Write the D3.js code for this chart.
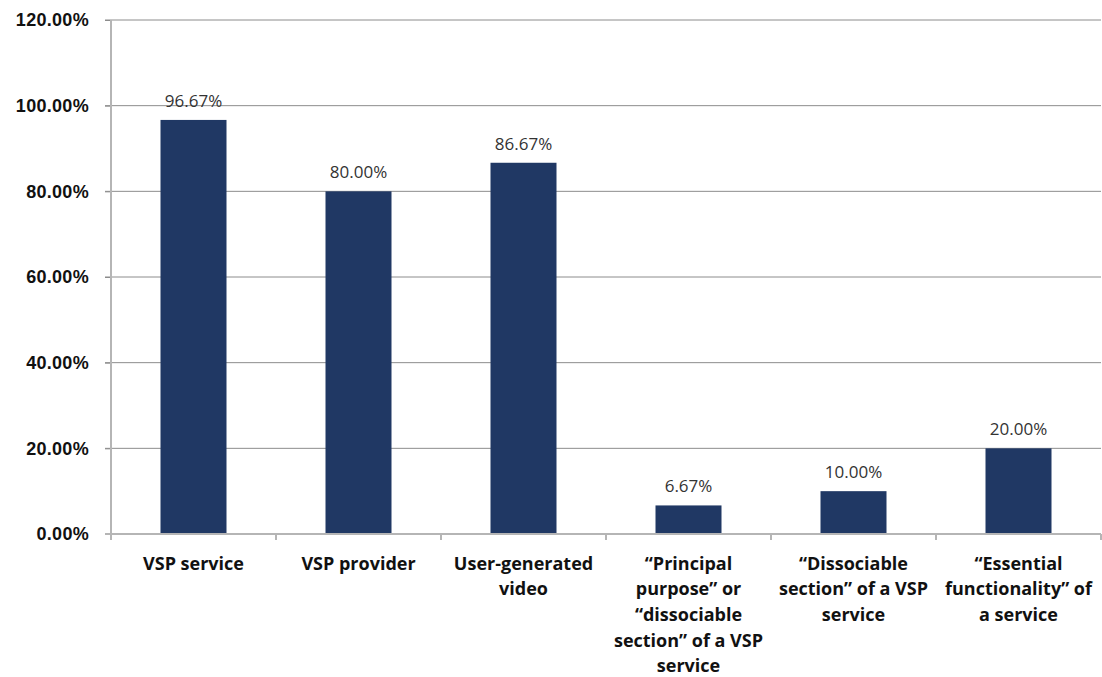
<!DOCTYPE html>
<html>
<head>
<meta charset="utf-8">
<script src="https://cdn.jsdelivr.net/npm/d3@7"></script>
<style>
  body { margin: 0; background: #fff; }
  svg { display: block; font-family: "Open Sans", "Liberation Sans", sans-serif; }
</style>
</head>
<body>
<div id="chart"></div>
<script>
const categories = [
    ['VSP service'],
    ['VSP provider'],
    ['User-generated', 'video'],
    ['\u201cPrincipal', 'purpose\u201d or', '\u201cdissociable', 'section\u201d of a VSP', 'service'],
    ['\u201cDissociable', 'section\u201d of a VSP', 'service'],
    ['\u201cEssential', 'functionality\u201d of', 'a service']
];
const values = [96.67, 80.00, 86.67, 6.67, 10.00, 20.00];
const yTicks = [0, 20, 40, 60, 80, 100, 120];

const W = 1102, H = 677;
const margin = { top: 20, right: 1, bottom: 143, left: 111 };
const width = W - margin.left - margin.right;
const height = H - margin.top - margin.bottom;

const svg = d3.select('#chart').append('svg').attr('width', W).attr('height', H);
const g = svg.append('g').attr('transform', `translate(${margin.left},${margin.top})`);

const x = d3.scaleBand().domain(d3.range(categories.length)).range([0, width]).padding(0);
const y = d3.scaleLinear().domain([0, 120]).range([height, 0]);
const fmt = v => v.toFixed(2) + '%';

// gridlines
g.append('g').selectAll('line').data(yTicks.filter(t => t > 0)).enter().append('line')
    .attr('x1', -6).attr('x2', width).attr('y1', d => y(d)).attr('y2', d => y(d))
    .attr('stroke', '#8c8c8c').attr('stroke-width', 1);

// y axis
const yAxis = g.append('g').call(d3.axisLeft(y).tickValues(yTicks).tickSize(6).tickPadding(16).tickFormat(fmt));
yAxis.select('.domain').remove();
yAxis.selectAll('line').attr('stroke', '#8c8c8c');
yAxis.selectAll('text').attr('font-size', 18).attr('font-weight', 'bold').attr('fill', '#111')
    .attr('letter-spacing', '0.3px');
g.append('line').attr('x1', 0).attr('x2', 0).attr('y1', 0).attr('y2', height)
    .attr('stroke', '#b5b5b5').attr('stroke-width', 2);

// bars
const bw = x.bandwidth() * 0.4;
g.selectAll('rect.bar').data(values).enter().append('rect').attr('class', 'bar')
    .attr('x', (d, i) => x(i) + (x.bandwidth() - bw) / 2)
    .attr('y', d => y(d))
    .attr('width', bw)
    .attr('height', d => height - y(d))
    .attr('fill', '#203864');

g.selectAll('text.val').data(values).enter().append('text').attr('class', 'val')
    .attr('x', (d, i) => x(i) + x.bandwidth() / 2)
    .attr('y', d => y(d) - 13)
    .attr('text-anchor', 'middle').attr('font-size', 17).attr('fill', '#333')
    .text(fmt);

// x axis
g.append('line').attr('x1', -6).attr('x2', width).attr('y1', height).attr('y2', height)
    .attr('stroke', '#b5b5b5').attr('stroke-width', 2);
g.selectAll('line.xt').data(d3.range(categories.length + 1)).enter().append('line').attr('class', 'xt')
    .attr('x1', i => i * x.step()).attr('x2', i => i * x.step())
    .attr('y1', height).attr('y2', height + 6)
    .attr('stroke', '#b5b5b5').attr('stroke-width', 2);

const lab = g.selectAll('text.cat').data(categories).enter().append('text').attr('class', 'cat')
    .attr('text-anchor', 'middle').attr('font-size', 18).attr('font-weight', 'bold').attr('fill', '#111');
lab.selectAll('tspan').data((d, i) => d.map(t => ({ t, i }))).enter().append('tspan')
    .attr('x', d => x(d.i) + x.bandwidth() / 2)
    .attr('y', (d, j) => height + 35.5 + j * 25.7)
    .text(d => d.t);
</script>
</body>
</html>
